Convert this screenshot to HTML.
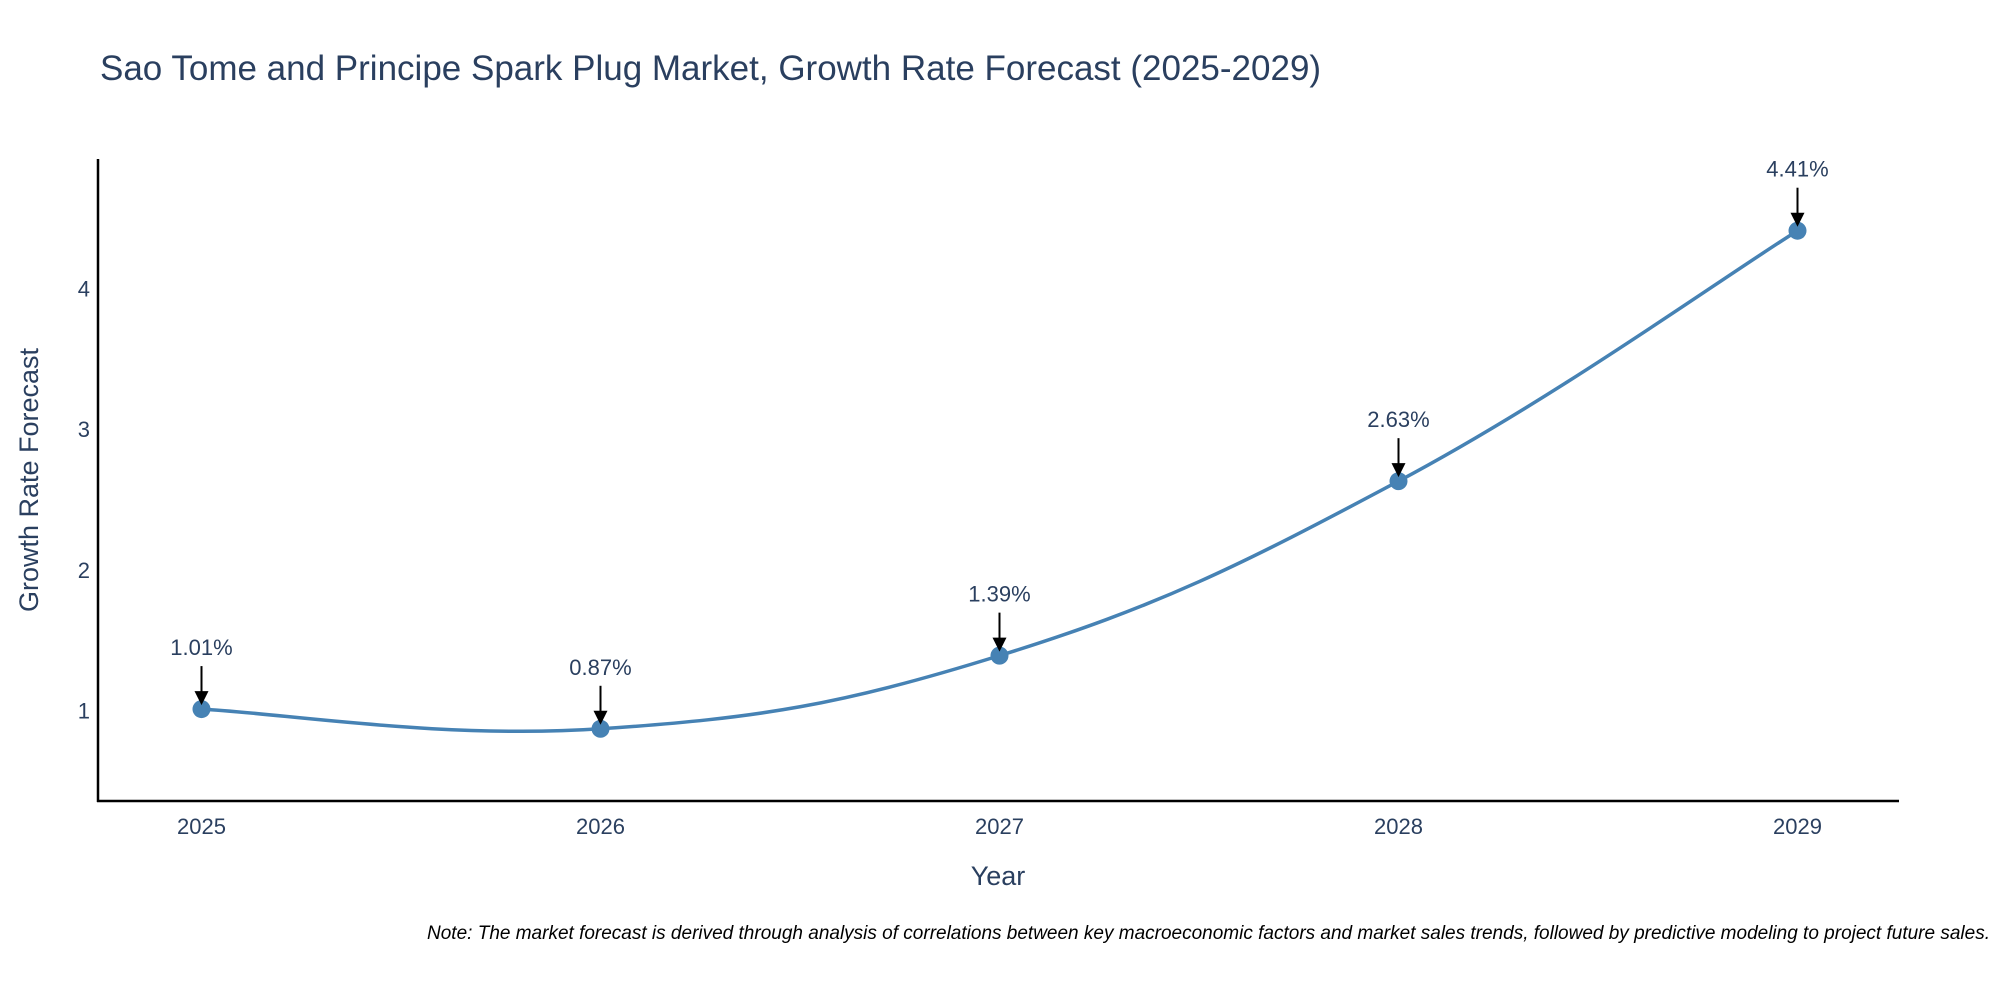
<!DOCTYPE html>
<html><head><meta charset="utf-8"><style>
body{margin:0;background:#fff;}
svg text{font-family:"Liberation Sans","DejaVu Sans",sans-serif;}
</style></head><body>
<svg width="2000" height="1000" xmlns="http://www.w3.org/2000/svg">
<text x="100" y="80" font-size="35" fill="#2a3f5f">Sao Tome and Principe Spark Plug Market, Growth Rate Forecast (2025-2029)</text>
<g id="yticks"></g>
<g id="xticks"></g>
<line x1="98" y1="159" x2="98" y2="802" stroke="#000" stroke-width="2.5"/>
<line x1="97" y1="801" x2="1899" y2="801" stroke="#000" stroke-width="2.5"/>
<path id="curve" fill="none" stroke="#4682B4" stroke-width="3.5"/>
<g id="marks"></g>
<text x="998" y="885" font-size="27" fill="#2a3f5f" text-anchor="middle">Year</text>
<text transform="translate(38,480) rotate(-90)" font-size="27" fill="#2a3f5f" text-anchor="middle">Growth Rate Forecast</text>
<text x="1990" y="939" font-size="19" font-style="italic" fill="#000" text-anchor="end">Note: The market forecast is derived through analysis of correlations between key macroeconomic factors and market sales trends, followed by predictive modeling to project future sales.</text>
<defs><marker id="ah" markerWidth="8" markerHeight="8" refX="7" refY="4" orient="auto" markerUnits="userSpaceOnUse"><path d="M0,0 L0,0"/></marker></defs>
</svg>
<script>
const years=[2025,2026,2027,2028,2029];
const values=[1.01,0.87,1.39,2.63,4.41];
const labels=["1.01%","0.87%","1.39%","2.63%","4.41%"];
const yTicks=[1,2,3,4];
const NS="http://www.w3.org/2000/svg";
function xs(v){return 201.5+(v-2025)*399;}
function ys(v){return 851.2-v*140.7;}
function mk(t,a){const e=document.createElementNS(NS,t);for(const k in a)e.setAttribute(k,a[k]);return e;}
const yt=document.getElementById('yticks');
yTicks.forEach(t=>{const e=mk('text',{x:90,y:ys(t)+8,'font-size':22,fill:'#2a3f5f','text-anchor':'end'});


e.textContent=t;yt.appendChild(e);});
const xt=document.getElementById('xticks');
years.forEach(t=>{const e=mk('text',{x:xs(t),y:834,'font-size':22,fill:'#2a3f5f','text-anchor':'middle'});


e.textContent=t;xt.appendChild(e);});
const P=years.map((y,i)=>[xs(y),ys(values[i])]);
let d='M'+P[0][0]+','+P[0][1];
for(let i=0;i<P.length-1;i++){const p0=P[Math.max(0,i-1)],p1=P[i],p2=P[i+1],p3=P[Math.min(P.length-1,i+2)];const k=0.2;
const c1=[p1[0]+(p2[0]-p0[0])*k,p1[1]+(p2[1]-p0[1])*k];const c2=[p2[0]-(p3[0]-p1[0])*k,p2[1]-(p3[1]-p1[1])*k];
d+=` C${c1[0]},${c1[1]} ${c2[0]},${c2[1]} ${p2[0]},${p2[1]}`;}
document.getElementById('curve').setAttribute('d',d);
const m=document.getElementById('marks');
P.forEach((p,i)=>{const c=mk('circle',{cx:p[0],cy:p[1],r:9,fill:'#4682B4'});


m.appendChild(c);
const l=mk('line',{x1:p[0],y1:p[1]-43,x2:p[0],y2:p[1]-16,stroke:'#000','stroke-width':2});


m.appendChild(l);
const h=mk('path',{d:`M${p[0]-7},${p[1]-18} L${p[0]+7},${p[1]-18} L${p[0]},${p[1]-4} Z`,fill:'#000'});


m.appendChild(h);
const t=mk('text',{x:p[0],y:p[1]-54,'font-size':22,fill:'#2a3f5f','text-anchor':'middle'});


t.textContent=labels[i];m.appendChild(t);});
</script>
</body></html>
